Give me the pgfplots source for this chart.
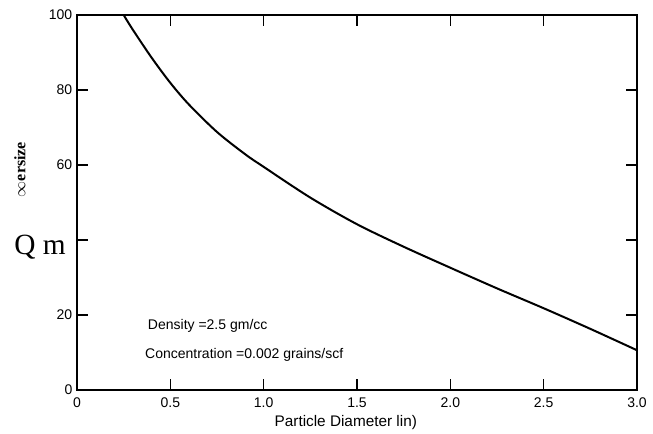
\documentclass[border=0pt]{standalone}
\usepackage{pgfplots}
\pgfplotsset{compat=1.18}
\usepackage{fontspec}
\setmainfont{Liberation Sans}
\newfontfamily\oldserif{Liberation Serif}

\begin{document}
\begin{tikzpicture}
% fixed page: 653 x 434 px at 0.75pt per px
\path[use as bounding box] (-57.75pt,-33pt) rectangle (432pt,292.5pt);
\begin{axis}[
    at={(0,0)}, anchor=south west,
    scale only axis,
    width=420pt, height=281.25pt,
    xmin=0, xmax=3, ymin=0, ymax=100,
    xtick={0,0.5,1,1.5,2,2.5,3},
    xticklabels={0,0.5,1.0,1.5,2.0,2.5,3.0},
    ytick={0,20,40,60,80,100},
    yticklabels={0,20,,60,80,100},
    tick align=inside,
    major tick length=8pt,
    minor tick num=0,
    axis line style={line width=1pt},
    every tick/.style={black, line width=0.9pt},
    ticklabel style={font=\fontsize{10.5}{12}\selectfont},
    xticklabel style={yshift=-2pt},
    /pgf/number format/assume math mode=true,
    clip=false,
]
\addplot[black, line width=1.5pt] coordinates {(0,100) (0.25,100)};
\addplot[black, line width=1.5pt, smooth, tension=0.5] coordinates {
    (0.25,100) (0.3,96.0) (0.4,88.6) (0.5,81.9) (0.6,76.1) (0.75,68.8)
    (0.9,62.9) (1.0,59.5) (1.25,51.3) (1.5,44.2) (1.75,38.2) (2.0,32.6)
    (2.25,27.1) (2.5,21.8) (2.75,16.3) (3.0,10.6)
};
\node[anchor=west, font=\fontsize{10.5}{12}\selectfont] at (axis cs:0.355,17) {Density =2.5 gm/cc};
\node[anchor=west, font=\fontsize{10.5}{12}\selectfont] at (axis cs:0.34,9.3) {Concentration =0.002 grains/scf};
\node[font=\fontsize{11.5}{13}\selectfont] at ([yshift=-24.75pt]axis cs:1.44,0) {Particle Diameter lin)};
\node[rotate=90, font=\oldserif\bfseries\fontsize{12}{14}\selectfont] at ([xshift=-42.75pt]axis cs:0,58.8) {$\infty$ersize};
\node[font=\oldserif\fontsize{22}{24}\selectfont] at ([xshift=-27.75pt]axis cs:0,38) {Q m};
\end{axis}
\end{tikzpicture}
\end{document}
